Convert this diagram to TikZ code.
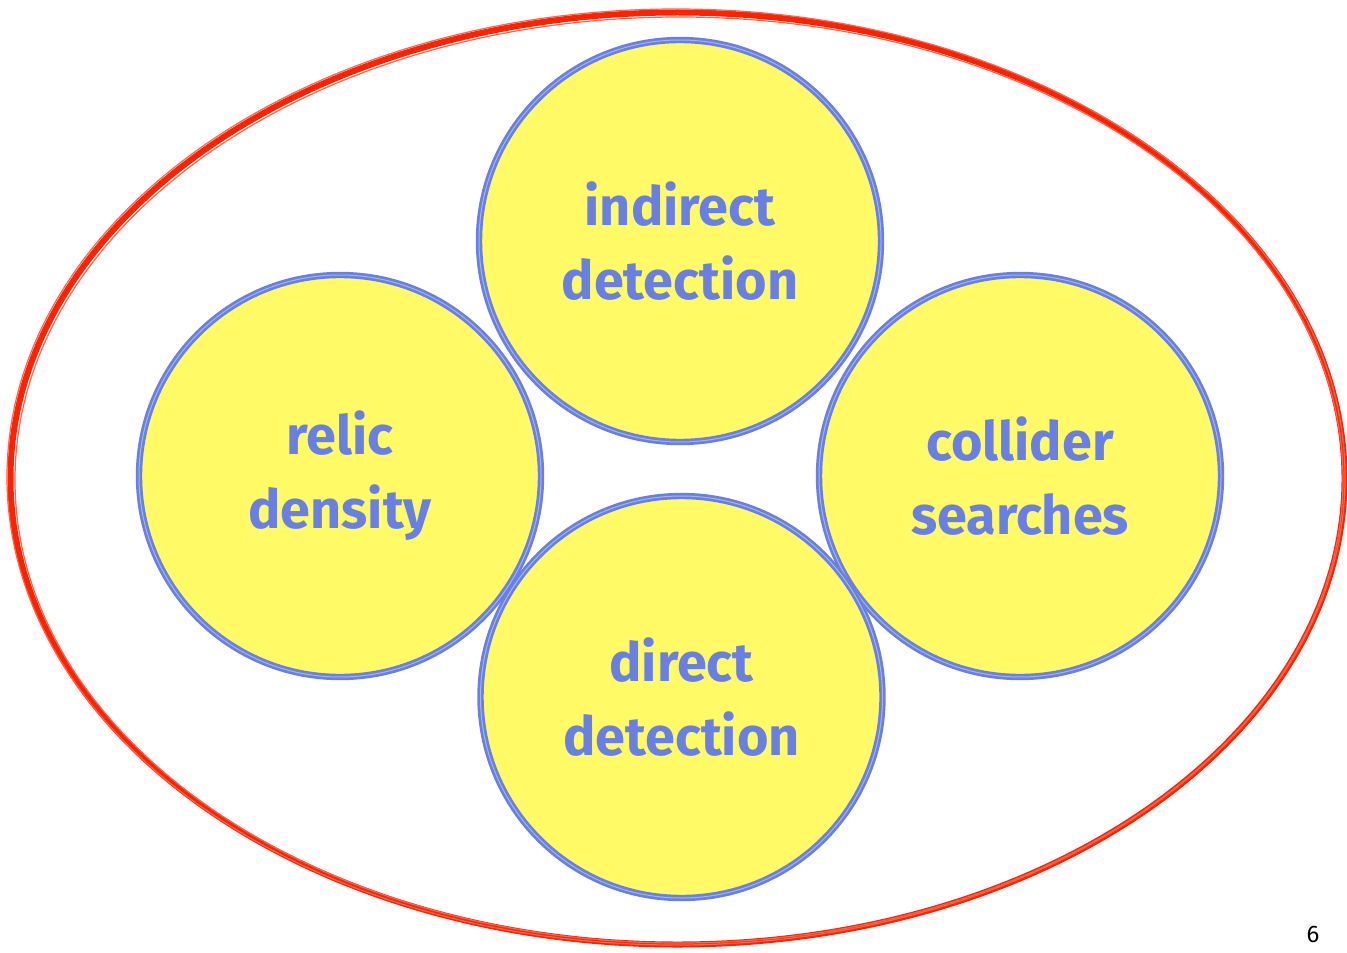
\documentclass[tikz,border=0pt]{standalone}
\usepackage{fontspec}
\setmainfont{Fira Sans}
\definecolor{ringred}{RGB}{255,34,0}
\definecolor{discblue}{RGB}{104,128,230}
\definecolor{discyellow}{RGB}{255,250,102}
\begin{document}
\begin{tikzpicture}[x=0.5pt,y=-0.5pt,
  disc/.style={circle, draw=discblue, fill=discyellow, line width=3.2pt,
    minimum size=201pt, inner sep=0pt, align=center,
    font=\fontsize{27}{37}\selectfont\bfseries, text=discblue,
    preaction={draw=discblue!70, line width=0.6pt, shift={(1.2pt,0.8pt)}},
    postaction={draw=discblue!60, line width=0.5pt, shift={(-1pt,-1pt)}}},
  ring/.style={draw=ringred, line width=3pt},
  ringsketch/.style={draw=ringred!70, line width=0.6pt}]
\useasboundingbox (0,0) rectangle (1347,952);
\fill[white] (0,0) rectangle (1347,952);
\draw[ring] (677.5,478.5) ellipse [x radius=333.5pt, y radius=233pt];
\draw[ringsketch] (679,480) ellipse [x radius=332pt, y radius=231.5pt];
\draw[ringsketch] (676,477) ellipse [x radius=334.5pt, y radius=234pt];
\node[disc] (indirect) at (680,241) {indirect\\detection};
\node[disc] (relic) at (340,476) {relic\\density};
\node[disc] (collider) at (1020,476) {collider\\searches};
\node[disc] (direct) at (681.5,697) {direct\\detection};
\node[anchor=north, inner sep=0pt, font=\fontsize{12}{14}\selectfont] (page) at (1313,926) {6};
\end{tikzpicture}
\end{document}
